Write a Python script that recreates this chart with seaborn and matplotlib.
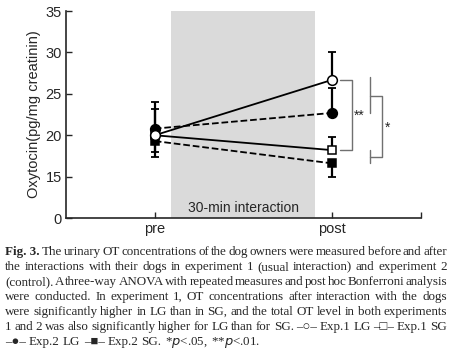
import matplotlib
matplotlib.use('Agg')
import matplotlib.pyplot as plt
import seaborn as sea
import pandas as pd

# values (pg/mg creatinin)
phases = [0, 1]
phase_labels = ['pre', 'post']
exp1_lg = [20.0, 26.7]
exp1_sg = [20.0, 18.2]
exp2_lg = [20.8, 22.7]
exp2_sg = [19.3, 16.6]
# one-sided error bars: [lower, upper]
exp1_lg_err = [[0, 0], [4.0, 3.3]]
exp1_sg_err = [[2.6, 0], [0, 1.55]]
exp2_lg_err = [[0, 0], [2.4, 3.0]]
exp2_sg_err = [[1.3, 1.7], [0, 0]]

ytick_pos = [10, 15, 20, 25, 30, 35]
ytick_labels = ['0', '15', '20', '25', '30', '35']

sea.set_style('ticks')
plt.rcParams['font.family'] = ['Liberation Sans', 'DejaVu Sans']

fig = plt.figure(figsize=(4.5, 3.58), dpi=100)
ax = fig.add_axes([0.1467, 0.391, 0.789, 0.578])

ax.axvspan(0.09, 0.9, ymin=0, ymax=1, color='#dadada', lw=0, zorder=0)
ax.text(0.5, 11.2, '30-min interaction', ha='center', va='center', fontsize=10)

series = [
    ('Exp.2 SG', exp2_sg, exp2_sg_err, 's', 'black', '--'),
    ('Exp.2 LG', exp2_lg, exp2_lg_err, 'o', 'black', '--'),
    ('Exp.1 SG', exp1_sg, exp1_sg_err, 's', 'white', '-'),
    ('Exp.1 LG', exp1_lg, exp1_lg_err, 'o', 'white', '-'),
]
for name, vals, err, mk, face, ls in series:
    df = pd.DataFrame({'phase': phases, 'value': vals})
    ax.errorbar(df['phase'], df['value'], yerr=err, fmt='none', ecolor='black',
                elinewidth=1.6, capsize=3, capthick=1.3, zorder=2)
    sea.lineplot(data=df, x='phase', y='value', ax=ax, color='black', linestyle=ls,
                 linewidth=1.3, marker=mk, markersize=7 if mk == 'o' else 6.3,
                 markerfacecolor=face, markeredgecolor='black', markeredgewidth=1.1,
                 dashes=(4, 2) if ls == '--' else '', zorder=3)

# significance brackets
gc = '#707070'
ax.plot([1.045, 1.11, 1.11, 1.045], [26.7, 26.7, 18.2, 18.2], color=gc, lw=1)
ax.text(1.15, 22.4, '**', ha='center', va='center', fontsize=10)
ax.plot([1.21, 1.21], [27.0, 22.7], color=gc, lw=1)
ax.plot([1.21, 1.21], [18.2, 16.6], color=gc, lw=1)
ax.plot([1.21, 1.28, 1.28, 1.21], [24.7, 24.7, 17.4, 17.4], color=gc, lw=1)
ax.text(1.31, 20.9, '*', ha='center', va='center', fontsize=10)

ax.set_xlim(-0.5, 1.5)
ax.set_ylim(10, 35)
ax.set_xticks([0, 1, 1.5])
ax.set_xticklabels(phase_labels + [''], fontsize=10.5)
ax.set_yticks(ytick_pos)
ax.set_yticklabels(ytick_labels, fontsize=10.5)
ax.tick_params(direction='in', length=4, width=1, pad=3)
ax.set_xlabel(None)
ax.set_ylabel('Oxytocin(pg/mg creatinin)', fontsize=10.5, labelpad=3)
sea.despine(ax=ax)
for s in ['left', 'bottom']:
    ax.spines[s].set_linewidth(1.2)

# caption, justified word by word
cap_font = ['Liberation Serif', 'DejaVu Sans']
cap_size = 9.4
lines = [
    [('Fig. 3.', 'bold'), ('The', ''), ('urinary', ''), ('OT', ''), ('concentrations', ''), ('of', ''), ('the', ''), ('dog', ''), ('owners', ''), ('were', ''), ('measured', ''), ('before', ''), ('and', ''), ('after', '')],
    'the interactions with their dogs in experiment 1 (usual interaction) and experiment 2',
    '(control). A three-way ANOVA with repeated measures and post hoc Bonferroni analysis',
    'were conducted. In experiment 1, OT concentrations after interaction with the dogs',
    'were significantly higher in LG than in SG, and the total OT level in both experiments',
    '1 and 2 was also significantly higher for LG than for SG. \u2013\u25cb\u2013 Exp.1 LG \u2013\u25a1\u2013 Exp.1 SG',
]
last_line = [('\u2013\u25cf\u2013', ''), ('Exp.2', ''), ('LG', ''), ('\u2013\u25a0\u2013', ''), ('Exp.2', ''), ('SG.', ''), ('*$p$<.05,', ''), ('**$p$<.01.', '')]

x0, x1 = 5 / 450, 447 / 450
y_first = 1 - 252 / 358
step = 15 / 358
renderer = fig.canvas.get_renderer()


def place(tokens, y, justify):
    texts = []
    for word, style in tokens:
        t = fig.text(0, y, word, fontsize=cap_size, family=cap_font, va='center',
                     fontweight='bold' if style == 'bold' else 'normal')
        texts.append(t)
    widths = [t.get_window_extent(renderer).width / fig.bbox.width for t in texts]
    space = 3.2 / 450
    if justify and len(texts) > 1:
        space = (x1 - x0 - sum(widths)) / (len(texts) - 1)
    x = x0
    for t, w in zip(texts, widths):
        t.set_x(x)
        x += w + space


for i, line in enumerate(lines):
    tokens = line if isinstance(line, list) else [(w, '') for w in line.split(' ')]
    place(tokens, y_first - i * step, True)
place(last_line, y_first - len(lines) * step, False)

fig.savefig('out.png', dpi=100)
